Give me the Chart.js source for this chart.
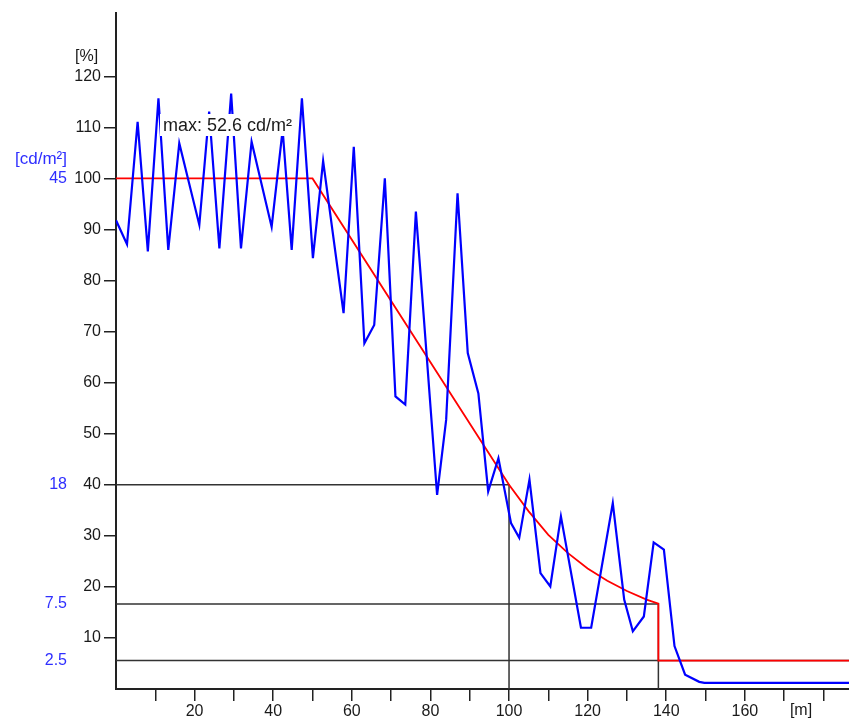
<!DOCTYPE html>
<html lang="de">
<head>
  <meta charset="UTF-8">
  <title>Leuchtdichteverlauf</title>
  <script src="https://cdn.jsdelivr.net/npm/chart.js"></script>
  <style>
    body {
      margin: 0;
      background: #fff;
    }
    #wrap {
      width: 849px;
      height: 719px;
    }
  </style>
</head>
<body>

  <div id="wrap"><canvas id="chart" width="849" height="719"></canvas></div>

  <script>
    // gemessene Leuchtdichte (blau), in % von 45 cd/m2
    const messX = [0, 2.8, 5.5, 8.1, 10.8, 13.3, 16.1, 21.2, 23.7, 26.3, 29.3, 31.8, 34.5, 39.6, 42.4, 44.7, 47.3, 50.1,
      52.7, 57.9, 60.5, 63.2, 65.7, 68.4, 71.1, 73.6, 76.3, 81.7, 84.0, 86.9, 89.5, 92.2, 94.7, 97.3, 100.5, 102.6,
      105.2, 108.0, 110.5, 113.2, 118.3, 120.9, 126.4, 129.3, 131.5, 134.3, 136.8, 139.4, 142.1, 144.8, 148.4, 149.7, 186.5];
    const messY = [91.8, 87.1, 111.1, 85.7, 115.7, 86.0, 106.9, 90.9, 113.1, 86.3, 116.6, 86.3, 107.2, 90.5, 109.5, 86.0, 115.7, 84.4,
      103.4, 73.6, 106.2, 67.7, 71.3, 100.0, 57.3, 55.7, 93.5, 38.0, 52.7, 97.1, 65.8, 57.9, 38.7, 45.2, 32.5, 29.6,
      41.0, 22.7, 20.1, 33.8, 12.0, 12.0, 36.4, 17.5, 11.3, 14.2, 28.7, 27.3, 8.4, 2.8, 1.4, 1.2, 1.2];

    // Sollkurve (rot)
    const sollX = [0, 50, 100, 105, 110, 115, 120, 125, 130, 135, 138, 138, 186.5];
    const sollY = [100, 100, 40, 34.8, 30.2, 26.6, 23.6, 21.2, 19.2, 17.5, 16.7, 5.56, 5.56];

    // Hilfslinien (schwarz): Niveau in %, Ende in m
    const refPct = [40, 16.67, 5.56];
    const refEnd = [100, 138, 186.5];
    const refDrop = [true, true, false];

    // Beschriftung links in cd/m2
    const cdLabels = ["45", "18", "7.5", "2.5"];
    const cdPct = [100, 40, 16.67, 5.56];

    const maxText = "max: 52.6 cd/m\u00B2";

    const FONT = "'Liberation Sans', Arial, sans-serif";
    const BLUE = "#2f2fff";
    const INK = "#1a1a1a";

    function pts(xs, ys) {
      return xs.map((x, i) => ({ x: x, y: ys[i] }));
    }

    const refSets = refPct.map((p, i) => {
      const d = [{ x: 0, y: p }, { x: refEnd[i], y: p }];
      if (refDrop[i]) d.push({ x: refEnd[i], y: 0 });
      return {
        data: d,
        borderColor: "#333",
        borderWidth: 1.5,
        pointRadius: 0,
        showLine: true,
        order: 3
      };
    });

    const textPlugin = {
      id: "texte",
      afterDatasetsDraw(chart) {
        const ctx = chart.ctx;
        ctx.save();
        // max-Beschriftung mit weissem Hintergrund
        ctx.fillStyle = "#fff";
        ctx.fillRect(160, 114, 138, 22);
        ctx.font = "18px " + FONT;
        ctx.fillStyle = INK;
        ctx.textAlign = "left";
        ctx.textBaseline = "middle";
        ctx.fillText(maxText, 163, 126);
        ctx.restore();
      },
      afterDraw(chart) {
        const ctx = chart.ctx;
        const y = chart.scales.y;
        ctx.save();
        ctx.font = "16px " + FONT;
        ctx.textBaseline = "middle";
        ctx.textAlign = "right";
        ctx.fillStyle = BLUE;
        cdLabels.forEach((t, i) => {
          ctx.fillText(t, 67, y.getPixelForValue(cdPct[i]));
        });
        ctx.font = "17px " + FONT;
        ctx.fillText("[cd/m\u00B2]", 67, 159);
        ctx.font = "16px " + FONT;
        ctx.fillStyle = INK;
        ctx.textAlign = "left";
        ctx.fillText("[%]", 75, 57);
        ctx.textAlign = "center";
        ctx.fillText("[m]", 801, 711);
        ctx.restore();
      }
    };

    new Chart(document.getElementById("chart"), {
      type: "scatter",
      data: {
        datasets: [
          {
            data: pts(messX, messY),
            borderColor: "#0000ff",
            borderWidth: 2.2,
            pointRadius: 0,
            showLine: true,
            order: 1
          },
          {
            data: pts(sollX, sollY),
            borderColor: "#ff0000",
            borderWidth: 1.8,
            pointRadius: 0,
            showLine: true,
            order: 2
          },
          ...refSets
        ]
      },
      options: {
        responsive: false,
        animation: false,
        layout: { padding: { top: 13, left: 0, right: 0, bottom: 0 } },
        plugins: {
          legend: { display: false },
          tooltip: { enabled: false }
        },
        scales: {
          x: {
            type: "linear",
            min: 0,
            max: 186.5,
            afterFit: s => { s.height = 30; },
            afterBuildTicks: s => {
              s.ticks = [10, 20, 30, 40, 50, 60, 70, 80, 90, 100, 110, 120, 130, 140, 150, 160, 170, 180].map(v => ({ value: v }));
            },
            ticks: {
              autoSkip: false,
              maxRotation: 0,
              padding: 1,
              color: INK,
              font: { family: FONT, size: 16 },
              callback: v => (v % 20 === 0 && v <= 160 ? v : "")
            },
            grid: { drawOnChartArea: false, color: "#222", lineWidth: 1.5, tickLength: 12 },
            border: { color: "#222", width: 2 }
          },
          y: {
            min: 0,
            max: 132.4,
            afterFit: s => { s.width = 116; },
            afterBuildTicks: s => {
              s.ticks = [10, 20, 30, 40, 50, 60, 70, 80, 90, 100, 110, 120].map(v => ({ value: v }));
            },
            ticks: {
              padding: 3,
              color: INK,
              font: { family: FONT, size: 16 }
            },
            grid: { drawOnChartArea: false, color: "#222", lineWidth: 1.5, tickLength: 12 },
            border: { color: "#222", width: 2 }
          }
        }
      },
      plugins: [textPlugin]
    });
  </script>

</body>
</html>
